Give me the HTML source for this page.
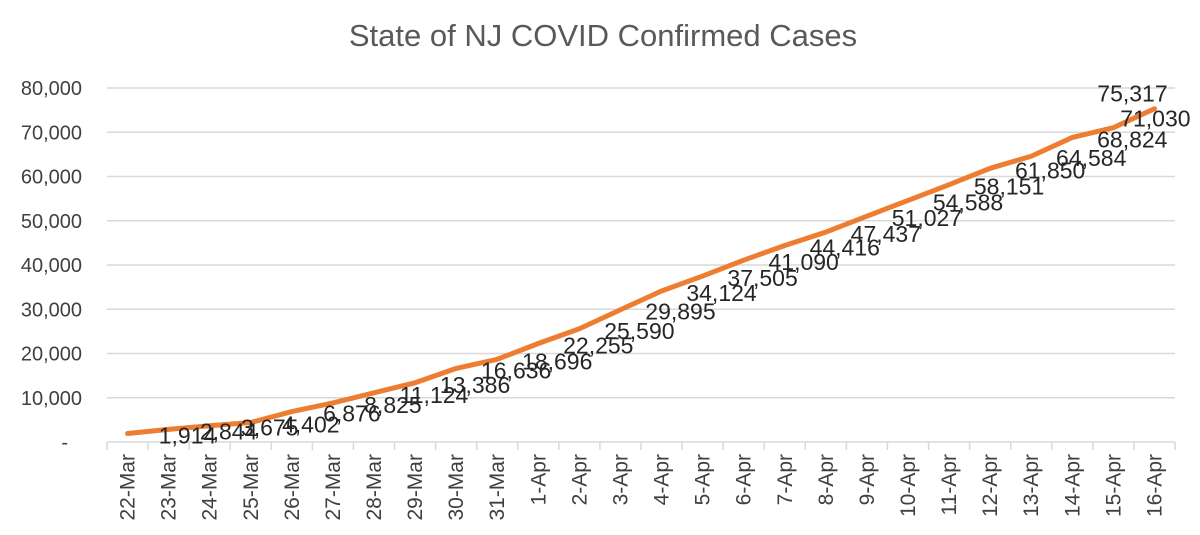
<!DOCTYPE html>
<html><head><meta charset="utf-8"><style>
body{margin:0;background:#fff;}
svg{display:block;font-family:"Liberation Sans",sans-serif;}
</style></head><body>
<svg id="chart" width="1200" height="535">
<text x="603" y="46" text-anchor="middle" font-size="31" fill="#595959">State of NJ COVID Confirmed Cases</text>
<g id="grid"></g><g id="axes"></g><g id="series"></g><g id="labels"></g>
</svg>
<script>
const categories=["22-Mar","23-Mar","24-Mar","25-Mar","26-Mar","27-Mar","28-Mar","29-Mar","30-Mar","31-Mar","1-Apr","2-Apr","3-Apr","4-Apr","5-Apr","6-Apr","7-Apr","8-Apr","9-Apr","10-Apr","11-Apr","12-Apr","13-Apr","14-Apr","15-Apr","16-Apr"];
const cases=[1914,2844,3675,4402,6876,8825,11124,13386,16636,18696,22255,25590,29895,34124,37505,41090,44416,47437,51027,54588,58151,61850,64584,68824,71030,75317];
const yTicks=[0,10000,20000,30000,40000,50000,60000,70000,80000];
const ns="http://www.w3.org/2000/svg";
const x0=107,x1=1175,yBase=442,yTop=88,yMax=80000;
const step=(x1-x0)/categories.length;
const xs=i=>x0+step*(i+0.5);
const ys=v=>yBase-(v/yMax)*(yBase-yTop);
function mk(t,a,p){const e=document.createElementNS(ns,t);for(const k in a)e.setAttribute(k,a[k]);p.appendChild(e);return e;}
const grid=document.getElementById('grid'),axes=document.getElementById('axes'),ser=document.getElementById('series'),lab=document.getElementById('labels');
yTicks.forEach(v=>{
 if(v>0){const l=mk('line',{x1:x0,x2:x1,y1:ys(v),y2:ys(v),stroke:'#d9d9d9','stroke-width':1.5},grid);
 
 }
 const t=mk('text',{x:v==0?68:82,y:ys(v)+7,'text-anchor':'end','font-size':20,fill:'#404040'},axes);
 t.textContent=v==0?'-':v.toLocaleString('en-US');
 
 
});
const ax=mk('line',{x1:x0,x2:x1,y1:yBase,y2:yBase,stroke:'#d9d9d9','stroke-width':1.5},axes);


categories.forEach((c,i)=>{
 const tx=x0+step*i;
 const tk=mk('line',{x1:tx,x2:tx,y1:yBase,y2:yBase+8,stroke:'#d9d9d9','stroke-width':1.5},axes);
 
 
 const cx=xs(i)+7,cy=yBase+12;
 const t=mk('text',{x:cx,y:cy,'text-anchor':'end','font-size':21,fill:'#404040',transform:`rotate(-90 ${cx} ${cy})`},axes);
 t.textContent=c;
 
 
});
const tk=mk('line',{x1:x1,x2:x1,y1:yBase,y2:yBase+8,stroke:'#d9d9d9','stroke-width':1.5},axes);


const pl=mk('polyline',{points:cases.map((v,i)=>xs(i)+','+ys(v)).join(' '),fill:'none',stroke:'#ed7d31','stroke-width':5,'stroke-linejoin':'round','stroke-linecap':'round'},ser);


const n=cases.length;
cases.forEach((v,i)=>{
 let lx=xs(i)+60,ly=ys(v)+10;
 if(i==n-1){lx=xs(i)-22;ly=ys(v)-7;}
 if(i==n-2){lx=xs(i)+42;ly=ys(v)-1;}
 const t=mk('text',{x:lx,y:ly,'text-anchor':'middle','font-size':23,fill:'#262626'},lab);
 t.textContent=v.toLocaleString('en-US');
 
 
});
</script>
</body></html>
